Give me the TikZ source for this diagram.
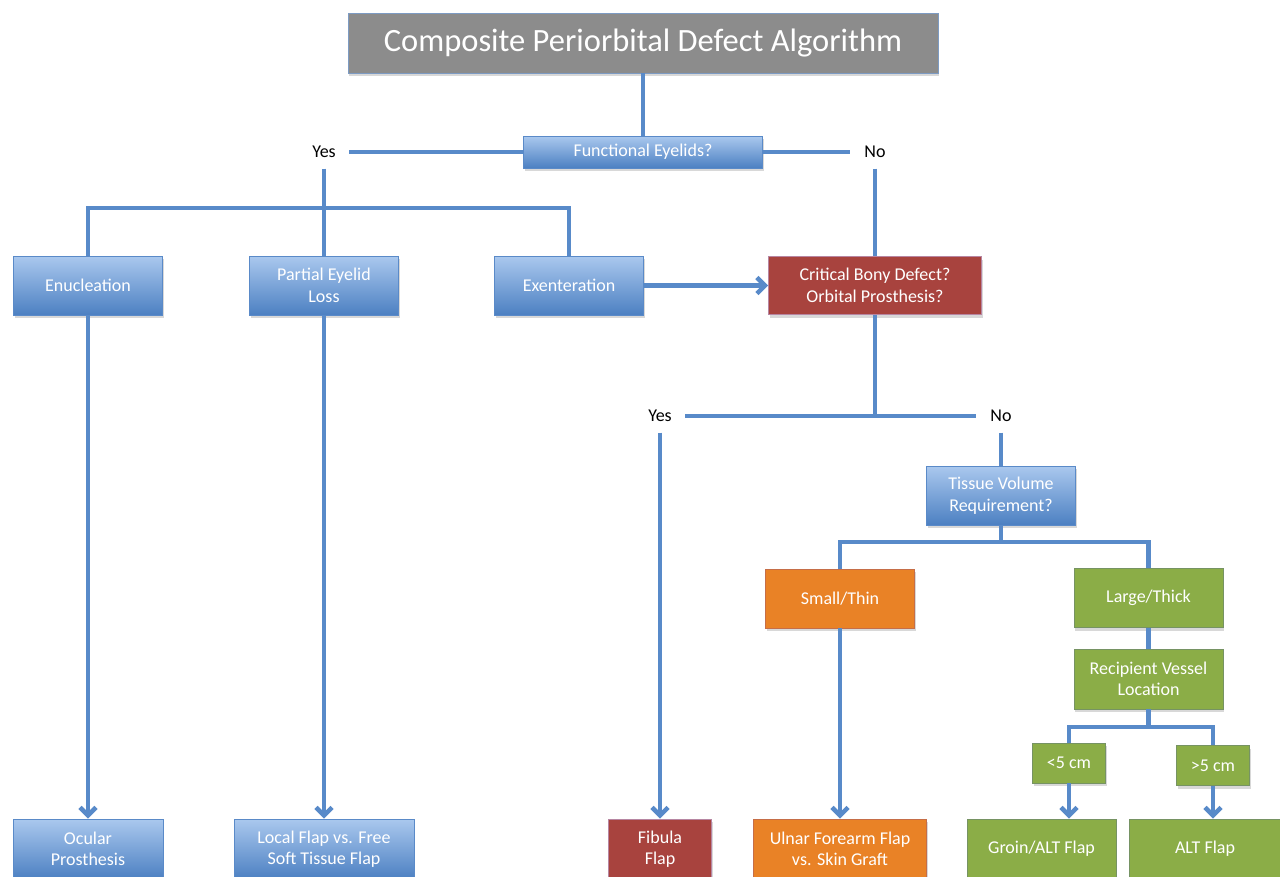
\documentclass[tikz,border=0pt]{standalone}
\usepackage{fontspec}
\setmainfont{Carlito}
\usetikzlibrary{arrows.meta,shadows}
\definecolor{conn}{RGB}{88,138,201}
\definecolor{bluetop}{RGB}{170,200,238}
\definecolor{bluebot}{RGB}{76,128,194}
\definecolor{blueline}{RGB}{90,138,200}
\definecolor{redfill}{RGB}{168,67,62}
\definecolor{orangefill}{RGB}{233,130,38}
\definecolor{greenfill}{RGB}{139,173,71}
\definecolor{grayfill}{RGB}{140,140,140}
\definecolor{titleline}{RGB}{125,155,195}
\tikzset{
  box/.style={rectangle, inner sep=2pt, align=center, text=white,
    font=\fontsize{18}{21.5}\selectfont,
    drop shadow={shadow xshift=1pt, shadow yshift=-3pt, opacity=0.25, fill=black!60}},
  bluebox/.style={box, top color=bluetop, bottom color=bluebot, draw=blueline, line width=0.8pt},
  redbox/.style={box, fill=redfill, draw=redfill!80!blue!60, line width=0.8pt},
  orangebox/.style={box, fill=orangefill, draw=orangefill!85!blue, line width=0.8pt},
  greenbox/.style={box, fill=greenfill, draw=greenfill!85!blue, line width=0.8pt},
  titlebox/.style={rectangle, fill=grayfill, draw=titleline, line width=0.8pt, text=white,
    font=\fontsize{32.5}{38}\selectfont,
    drop shadow={shadow xshift=1pt, shadow yshift=-3pt, opacity=0.25, fill=black!60}},
  lab/.style={rectangle, inner sep=0pt, minimum width=50pt, minimum height=33pt,
    text=black, font=\fontsize{18}{21}\selectfont},
  conn/.style={draw=conn, line width=4.5pt},
  arr/.style={conn, -{Straight Barb[length=8pt,width=16pt]}},
}
\begin{document}
\begin{tikzpicture}[x=1pt,y=-1pt]
\useasboundingbox (0,0) rectangle (1280,876);
\fill[white] (0,0) rectangle (1280,876);

% nodes
\node[titlebox, minimum width=590pt, minimum height=60pt] (title) at (643,43) {Composite Periorbital Defect Algorithm};
\node[bluebox, minimum width=239pt, minimum height=32pt] (fe) at (643,152) {Functional Eyelids?};
\node[lab] (yes1) at (324,152) {Yes};
\node[lab] (no1) at (875,152) {No};

\node[bluebox, minimum width=149pt, minimum height=59pt] (enuc) at (88,285.5) {Enucleation};
\node[bluebox, minimum width=149pt, minimum height=59pt] (pel) at (324,285.5) {Partial Eyelid\\Loss};
\node[bluebox, minimum width=149pt, minimum height=59pt] (exen) at (569,285.5) {Exenteration};
\node[redbox, minimum width=213pt, minimum height=58pt] (crit) at (875,285.5) {Critical Bony Defect?\\Orbital Prosthesis?};

\node[lab] (yes2) at (660,416) {Yes};
\node[lab] (no2) at (1001,416) {No};

\node[bluebox, minimum width=149pt, minimum height=59pt] (tv) at (1001,495.5) {Tissue Volume\\Requirement?};
\node[orangebox, minimum width=149pt, minimum height=59pt] (small) at (840,598.5) {Small/Thin};
\node[greenbox, minimum width=149pt, minimum height=59pt] (large) at (1148.5,598) {Large/Thick};
\node[greenbox, minimum width=149pt, minimum height=60pt] (rvl) at (1148.5,679) {Recipient Vessel\\Location};
\node[greenbox, minimum width=73pt, minimum height=40pt] (lt5) at (1069,763) {<5 cm};
\node[greenbox, minimum width=73pt, minimum height=40pt] (gt5) at (1213,765.5) {>5 cm};

\node[bluebox, minimum width=150pt, minimum height=60pt] (ocular) at (88,849) {Ocular\\Prosthesis};
\node[bluebox, minimum width=180pt, minimum height=60pt] (local) at (324,849) {Local Flap vs. Free\\Soft Tissue Flap};
\node[redbox, minimum width=103pt, minimum height=60pt] (fibula) at (660,849) {Fibula\\Flap};
\node[orangebox, minimum width=173pt, minimum height=60pt] (ulnar) at (840,849) {Ulnar Forearm Flap\\vs. Skin Graft};
\node[greenbox, minimum width=149pt, minimum height=60pt] (groin) at (1041.5,849) {Groin/ALT Flap};
\node[greenbox, minimum width=152pt, minimum height=60pt] (alt) at (1205,849) {ALT Flap};

% junction coordinates
\coordinate (b1) at (324,208);
\coordinate (b2) at (875,416);
\coordinate (b3) at (1001,542);
\coordinate (b4) at (1148.5,727);

% connectors
\draw[conn] (title.south) -- (fe.north);
\draw[conn] (fe.west) -- (yes1.east);
\draw[conn] (fe.east) -- (no1.west);
\draw[conn] (yes1.south) -- (pel.north);
\draw[conn] (enuc.north) |- (b1) -| (exen.north);
\draw[arr] (enuc.south) -- (ocular.north);
\draw[arr] (pel.south) -- (local.north);
\draw[arr] (exen.east) -- (crit.west);
\draw[conn] (no1.south) -- (crit.north);
\draw[conn] (crit.south) -- (b2);
\draw[conn] (yes2.east) -- (no2.west);
\draw[arr] (yes2.south) -- (fibula.north);
\draw[conn] (no2.south) -- (tv.north);
\draw[conn] (tv.south) -- (b3);
\draw[conn] (small.north) |- (b3) -| (large.north);
\draw[arr] (small.south) -- (ulnar.north);
\draw[conn] (large.south) -- (rvl.north);
\draw[conn] (rvl.south) -- (b4);
\draw[conn] (lt5.north) |- (b4) -| (gt5.north);
\draw[arr] (lt5.south) -- (lt5.south |- groin.north);
\draw[arr] (gt5.south) -- (gt5.south |- alt.north);
\end{tikzpicture}
\end{document}
